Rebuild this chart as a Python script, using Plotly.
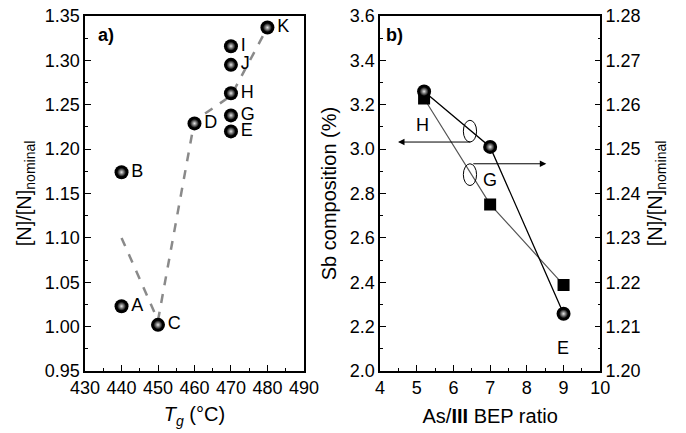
import plotly.graph_objects as go

# ---- panel a data ----
tg = [440, 440, 450, 460, 470, 470, 470, 470, 470, 480]
n_ratio = [1.023, 1.174, 1.002, 1.229, 1.220, 1.238, 1.263, 1.295, 1.316, 1.337]
labels_a = ["A", "B", "C", "D", "E", "G", "H", "J", "I", "K"]
guide_x = [440, 450, 460, 470, 480]
guide_y = [1.100, 1.007, 1.232, 1.260, 1.337]

# ---- panel b data ----
bep = [5.2, 7.0, 9.0]
sb_comp = [3.228, 2.751, 2.388]
n_ratio_b = [1.2630, 1.2505, 1.2129]
labels_b = ["H", "G", "E"]

FONT = "Liberation Sans"
FS = 18
TS = 20

sphere_base = dict(size=14, color="black", line=dict(width=0))
sphere_hi = dict(size=9, color="black", gradient=dict(type="radial", color="#e6e6e6"),
                 line=dict(width=0))

fig = go.Figure()

# panel a
fig.add_trace(go.Scatter(x=guide_x, y=guide_y, mode="lines",
                         line=dict(color="#8a8a8a", width=2.5, dash="dash"),
                         xaxis="x", yaxis="y", showlegend=False, hoverinfo="skip"))
fig.add_trace(go.Scatter(x=tg, y=n_ratio, mode="markers+text", text=labels_a,
                         textposition="middle right",
                         textfont=dict(family=FONT, size=FS, color="black"),
                         marker=sphere_base, xaxis="x", yaxis="y", showlegend=False))
fig.add_trace(go.Scatter(x=tg, y=n_ratio, mode="markers", marker=sphere_hi,
                         xaxis="x", yaxis="y", showlegend=False, hoverinfo="skip"))

# panel b
fig.add_trace(go.Scatter(x=bep, y=sb_comp, mode="lines+markers",
                         line=dict(color="#555555", width=1.2),
                         marker=dict(symbol="square", size=12, color="black"),
                         xaxis="x2", yaxis="y2", showlegend=False))
fig.add_trace(go.Scatter(x=bep, y=n_ratio_b, mode="lines+markers",
                         line=dict(color="black", width=1.3),
                         marker=sphere_base, xaxis="x2", yaxis="y3", showlegend=False))
fig.add_trace(go.Scatter(x=bep, y=n_ratio_b, mode="markers", marker=sphere_hi,
                         xaxis="x2", yaxis="y3", showlegend=False, hoverinfo="skip"))

ydom = [0.1432, 0.963]
axcommon = dict(showgrid=False, zeroline=False, showline=True, linecolor="black",
                linewidth=1.5, ticks="inside", ticklen=6, tickwidth=1.3,
                tickcolor="black", automargin=False,
                tickfont=dict(family=FONT, size=FS, color="black"))

fig.update_layout(
    width=686, height=433, margin=dict(l=0, r=0, t=0, b=0),
    plot_bgcolor="white", paper_bgcolor="white",
    font=dict(family=FONT, size=FS, color="black"),
    xaxis=dict(domain=[0.124, 0.443], range=[430, 490], dtick=10, mirror=True,
               minor=dict(ticks="inside", ticklen=3, dtick=5, tickcolor="black"),
               title=dict(text="<i>T<sub>g</sub></i> (°C)", standoff=10,
                          font=dict(family=FONT, size=TS)),
               anchor="y", **axcommon),
    yaxis=dict(domain=ydom, range=[0.95, 1.35], dtick=0.05, tickformat=".2f",
               mirror=True,
               minor=dict(ticks="inside", ticklen=3, dtick=0.025, tickcolor="black"),
               title=dict(text="[N]/[N]<sub>nominal</sub>", standoff=8,
                          font=dict(family=FONT, size=TS)),
               anchor="x", **axcommon),
    xaxis2=dict(domain=[0.554, 0.875], range=[4, 10], dtick=1, mirror=True,
                minor=dict(ticks="inside", ticklen=3, dtick=0.5, tickcolor="black"),
                title=dict(text="As/<b>III</b> BEP ratio", standoff=12,
                           font=dict(family=FONT, size=TS)),
                anchor="y2", **axcommon),
    yaxis2=dict(domain=ydom, range=[2.0, 3.6], dtick=0.2, tickformat=".1f",
                minor=dict(ticks="inside", ticklen=3, dtick=0.1, tickcolor="black"),
                title=dict(text="Sb composition (%)", standoff=8,
                           font=dict(family=FONT, size=TS)),
                anchor="x2", **axcommon),
    yaxis3=dict(range=[1.20, 1.28], dtick=0.01, tickformat=".2f",
                overlaying="y2", side="right", anchor="x2",
                minor=dict(ticks="inside", ticklen=3, dtick=0.005, tickcolor="black"),
                title=dict(text="[N]/[N]<sub>nominal</sub>", standoff=8,
                           font=dict(family=FONT, size=TS)),
                **axcommon),
)

# panel labels
fig.add_annotation(text="<b>a)</b>", xref="x domain", yref="y domain", x=0.05, y=0.98,
                   xanchor="left", yanchor="top", showarrow=False,
                   font=dict(family=FONT, size=FS, color="black"))
fig.add_annotation(text="<b>b)</b>", xref="x2 domain", yref="y2 domain", x=0.018, y=0.98,
                   xanchor="left", yanchor="top", showarrow=False,
                   font=dict(family=FONT, size=FS, color="black"))

# panel b text labels
for t, xx, yy in zip(labels_b, [5.17, 6.99, 8.99], [3.107, 2.86, 2.104]):
    fig.add_annotation(text=t, x=xx, y=yy, xref="x2", yref="y2", showarrow=False,
                       font=dict(family=FONT, size=FS, color="black"))

# ellipses marking curves
for y0, y1 in [(3.032, 3.13), (2.836, 2.934)]:
    fig.add_shape(type="circle", xref="x2", yref="y2", x0=6.27, x1=6.63, y0=y0, y1=y1,
                  line=dict(color="black", width=1))

# arrows to axes
fig.add_annotation(x=4.49, y=3.032, ax=6.5, ay=3.032, xref="x2", yref="y2",
                   axref="x2", ayref="y2", text="", showarrow=True,
                   arrowhead=2, arrowsize=1.3, arrowwidth=1, arrowcolor="black")
fig.add_annotation(x=8.53, y=2.934, ax=6.5, ay=2.934, xref="x2", yref="y2",
                   axref="x2", ayref="y2", text="", showarrow=True,
                   arrowhead=2, arrowsize=1.3, arrowwidth=1, arrowcolor="black")

fig.write_html("out.html")
